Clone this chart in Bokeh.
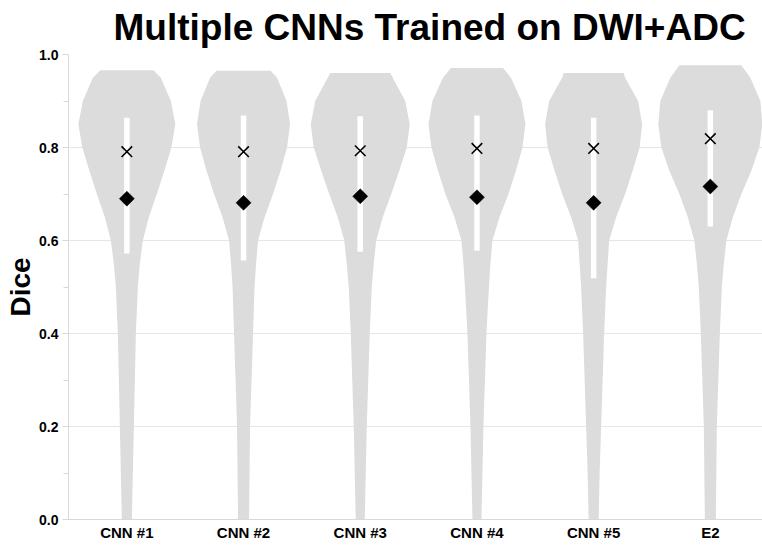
import numpy as np
from bokeh.plotting import figure
from bokeh.models import Range1d, FixedTicker, PrintfTickFormatter, ColumnDataSource
from bokeh.embed import file_html
from bokeh.resources import INLINE

# ---- data -------------------------------------------------------------
models = ["CNN #1", "CNN #2", "CNN #3", "CNN #4", "CNN #5", "E2"]

# Dice levels at which the violin density is given (the top level of each
# violin is the model's maximum Dice, listed separately)
density_levels = [0.0, 0.1, 0.2, 0.3, 0.4, 0.5, 0.55, 0.6, 0.65, 0.7,
                  0.75, 0.8, 0.85, 0.9, 0.95]
max_dice = [0.966, 0.965, 0.960, 0.971, 0.960, 0.977]

# relative violin width (density) at each level, last value at max_dice
density_cnn1 = [0.10, 0.12, 0.14, 0.16, 0.18, 0.22, 0.26, 0.32, 0.44, 0.60, 0.75, 0.89, 0.97, 0.88, 0.68, 0.53]
density_cnn2 = [0.11, 0.12, 0.13, 0.16, 0.19, 0.22, 0.25, 0.29, 0.42, 0.59, 0.74, 0.87, 0.93, 0.86, 0.67, 0.54]
density_cnn3 = [0.09, 0.11, 0.13, 0.16, 0.19, 0.23, 0.27, 0.32, 0.45, 0.62, 0.78, 0.93, 0.99, 0.90, 0.65, 0.60]
density_cnn4 = [0.09, 0.11, 0.13, 0.16, 0.19, 0.24, 0.27, 0.31, 0.45, 0.63, 0.78, 0.91, 0.97, 0.89, 0.68, 0.52]
density_cnn5 = [0.10, 0.12, 0.15, 0.18, 0.21, 0.25, 0.28, 0.31, 0.45, 0.63, 0.78, 0.92, 0.97, 0.89, 0.63, 0.60]
density_e2 = [0.11, 0.12, 0.13, 0.16, 0.19, 0.23, 0.27, 0.32, 0.45, 0.62, 0.82, 0.98, 1.04, 1.00, 0.80, 0.62]
densities = [density_cnn1, density_cnn2, density_cnn3, density_cnn4, density_cnn5, density_e2]

median_dice = [0.791, 0.791, 0.793, 0.798, 0.798, 0.819]
mean_dice = [0.690, 0.681, 0.695, 0.693, 0.681, 0.716]
q1_dice = [0.572, 0.557, 0.576, 0.578, 0.519, 0.630]
q3_dice = [0.864, 0.869, 0.867, 0.869, 0.864, 0.880]

y_ticks = [0.0, 0.2, 0.4, 0.6, 0.8, 1.0]

# ---- figure -----------------------------------------------------------
FONT = "Liberation Sans"
GRID = "#e6e6e6"
VIOLIN = "#dcdcdc"
WIDTH_SCALE = 0.857  # category-slot units per density unit

positions = list(range(len(models)))

p = figure(width=762, height=550, output_backend="svg", toolbar_location=None,
           x_range=Range1d(-0.5, len(models) - 0.553), y_range=Range1d(0, 1),
           min_border_left=68, min_border_right=0, min_border_top=54,
           min_border_bottom=31, background_fill_color="white",
           border_fill_color="white")
p.outline_line_color = None

# violins
xs, ys = [], []
for pos, dens, top in zip(positions, densities, max_dice):
    lv = np.array(density_levels + [top])
    half = np.array(dens) * WIDTH_SCALE / 2.0
    xs.append(np.concatenate([pos + half, (pos - half)[::-1]]))
    ys.append(np.concatenate([lv, lv[::-1]]))
p.patches(xs, ys, fill_color=VIOLIN, line_color=None)

# interquartile bars
src = ColumnDataSource(dict(x=positions, q1=q1_dice, q3=q3_dice,
                            med=median_dice, mean=mean_dice))
p.vbar(x="x", bottom="q1", top="q3", width=0.047, source=src,
       fill_color="white", line_color=None)

# median (x) and mean (diamond)
p.scatter(x="x", y="med", source=src, marker="x", size=15,
          line_color="black", line_width=1.6)
p.scatter(x="x", y="mean", source=src, marker="square", angle=np.pi / 4,
          size=10.6, fill_color="black", line_color="black", line_width=0.5)

# title
p.title.text = "Multiple CNNs Trained on DWI+ADC"
p.title.text_font = FONT
p.title.text_font_size = "37px"
p.title.text_font_style = "bold"
p.title.text_color = "black"
p.title.align = "left"
p.title.offset = 45
p.title.standoff = 10
p.title.vertical_align = "top"

# grid
p.xgrid.grid_line_color = None
p.ygrid.grid_line_color = GRID
p.ygrid.ticker = FixedTicker(ticks=y_ticks)

# y axis
ya = p.yaxis[0]
ya.ticker = FixedTicker(ticks=y_ticks,
                        minor_ticks=[0.1, 0.3, 0.5, 0.7, 0.9])
ya.formatter = PrintfTickFormatter(format="%.1f")
ya.axis_label = "Dice"
ya.axis_label_text_font = FONT
ya.axis_label_text_font_size = "28px"
ya.axis_label_text_font_style = "bold"
ya.axis_label_text_color = "black"
ya.axis_label_standoff = 0
ya.major_label_text_font = FONT
ya.major_label_text_font_size = "14px"
ya.major_label_text_font_style = "bold"
ya.major_label_text_color = "black"
ya.major_label_standoff = 4
ya.axis_line_color = "#d8d8d8"
ya.major_tick_line_color = "#d8d8d8"
ya.minor_tick_line_color = "#d8d8d8"
ya.major_tick_in = 0
ya.major_tick_out = 6
ya.minor_tick_in = 0
ya.minor_tick_out = 5

# x axis
xa = p.xaxis[0]
xa.ticker = FixedTicker(ticks=positions)
xa.major_label_overrides = {i: m for i, m in enumerate(models)}
xa.major_label_text_font = FONT
xa.major_label_text_font_size = "15px"
xa.major_label_text_font_style = "bold"
xa.major_label_text_color = "black"
xa.major_label_standoff = 4
xa.axis_line_color = "#d8d8d8"
xa.major_tick_line_color = None
xa.minor_tick_line_color = None
xa.major_tick_in = 0
xa.major_tick_out = 0

open("out.html", "w").write(file_html(p, INLINE))
